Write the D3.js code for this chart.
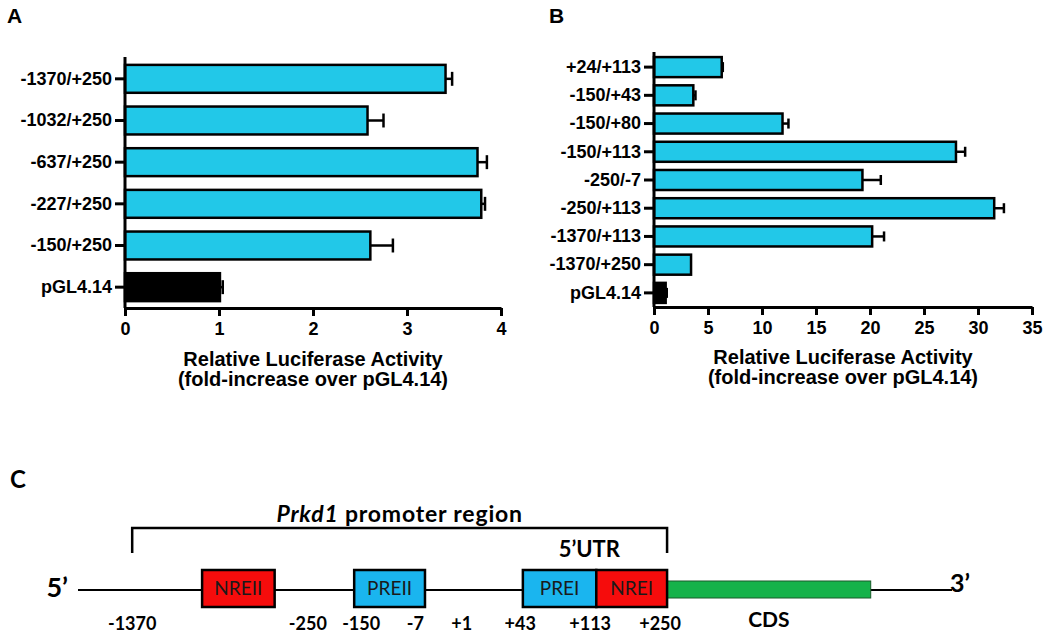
<!DOCTYPE html>
<html>
<head>
<meta charset="utf-8">
<script src="https://cdn.jsdelivr.net/npm/d3@7"></script>
<style>
    body { margin: 0; background: #fff; }
    svg { display: block; }
</style>
</head>
<body>
<div id="figure"></div>
<script>
// panel A data
var catsA = ["-1370/+250", "-1032/+250", "-637/+250", "-227/+250", "-150/+250", "pGL4.14"];
var valsA = [3.41, 2.58, 3.75, 3.79, 2.61, 1.01];
var errA = [0.07, 0.17, 0.10, 0.04, 0.24, 0.03];
var ticksA = [0, 1, 2, 3, 4];

// panel B data
var catsB = ["+24/+113", "-150/+43", "-150/+80", "-150/+113", "-250/-7", "-250/+113", "-1370/+113", "-1370/+250", "pGL4.14"];
var valsB = [6.27, 3.64, 11.9, 27.96, 19.3, 31.5, 20.2, 3.43, 1.08];
var errB = [0.10, 0.20, 0.55, 0.85, 1.7, 0.9, 1.1, 0, 0.1];
var ticksB = [0, 5, 10, 15, 20, 25, 30, 35];

var axisTitle = ["Relative Luciferase Activity", "(fold-increase over pGL4.14)"];

// panel C schematic (positions in schematic units 0..100 along the line)
var siteLabels = ["-1370", "-250", "-150", "-7", "+1", "+43", "+113", "+250"];
var siteAt = [6.2, 26.3, 32.4, 38.6, 43.9, 50.6, 58.6, 66.6];
var boxNames = ["NREII", "PREII", "PREI", "NREI"];
var boxFrom = [14.2, 31.6, 50.9, 59.3];
var boxTo = [22.5, 39.7, 59.3, 67.4];
var boxKind = ["N", "P", "P", "N"];

var width = 1050, height = 635;
var cyan = "#22c8e8";
var armFont = "'Liberation Sans', Arial, sans-serif";
var calFont = "Lato, 'Noto Sans', sans-serif";

var svg = d3.select("#figure")
        .append("svg")
        .attr("width", width)
        .attr("height", height);

function drawPanel(cats, vals, errs, ticks, opt) {
    var g = svg.append("g");

    var x = d3.scaleLinear()
            .domain([0, ticks[ticks.length - 1]])
            .range([opt.left, opt.right]);

    var y = d3.scaleBand()
            .domain(cats)
            .range([opt.top, opt.bottom])
            .paddingInner(opt.pad)
            .paddingOuter(opt.pad / 2);

    var rows = cats.map(function (c, i) {
        return {cat: c, v: vals[i], e: errs[i]};
    });

    // bars
    g.selectAll(".bar")
            .data(rows)
            .enter()
            .append("rect")
            .attr("x", x(0))
            .attr("y", function (d) { return y(d.cat); })
            .attr("width", function (d) { return x(d.v) - x(0); })
            .attr("height", y.bandwidth())
            .attr("fill", function (d) { return d.cat === "pGL4.14" ? "#000" : cyan; })
            .attr("stroke", "#000")
            .attr("stroke-width", 2.5);

    // error bars (upper side only)
    var eb = g.selectAll(".err")
            .data(rows.filter(function (d) { return d.e > 0; }))
            .enter()
            .append("g")
            .attr("stroke", "#000")
            .attr("stroke-width", 2.5);
    eb.append("line")
            .attr("x1", function (d) { return x(d.v); })
            .attr("x2", function (d) { return x(d.v + d.e); })
            .attr("y1", function (d) { return y(d.cat) + y.bandwidth() / 2; })
            .attr("y2", function (d) { return y(d.cat) + y.bandwidth() / 2; });
    eb.append("line")
            .attr("x1", function (d) { return x(d.v + d.e); })
            .attr("x2", function (d) { return x(d.v + d.e); })
            .attr("y1", function (d) { return y(d.cat) + y.bandwidth() / 4; })
            .attr("y2", function (d) { return y(d.cat) + y.bandwidth() * 3 / 4; });

    // axes
    var xa = g.append("g")
            .attr("transform", "translate(0," + opt.bottom + ")")
            .call(d3.axisBottom(x).tickValues(ticks).tickFormat(d3.format("d"))
                    .tickSize(8).tickSizeOuter(0).tickPadding(6));
    var ya = g.append("g")
            .attr("transform", "translate(" + opt.left + ",0)")
            .call(d3.axisLeft(y).tickSize(10).tickSizeOuter(0).tickPadding(3));

    [xa, ya].forEach(function (a) {
        a.selectAll("path, line").attr("stroke", "#000").attr("stroke-width", 3);
        a.selectAll("text")
                .attr("fill", "#000")
                .style("font-family", armFont)
                .style("font-weight", "bold")
                .style("font-size", "18px");
    });
    ya.select(".domain").attr("d", "M0," + (opt.top - 1) + "V" + opt.bottom);

    // axis title
    g.selectAll(".ttl")
            .data(axisTitle)
            .enter()
            .append("text")
            .attr("x", (opt.left + opt.right) / 2)
            .attr("y", function (d, i) { return opt.titleY + i * 20; })
            .attr("text-anchor", "middle")
            .style("font-family", armFont)
            .style("font-weight", "bold")
            .style("font-size", "20px")
            .text(function (d) { return d; });

    // panel letter
    g.append("text")
            .attr("x", opt.letterX)
            .attr("y", 23)
            .style("font-family", armFont)
            .style("font-weight", "bold")
            .style("font-size", "21px")
            .text(opt.letter);
}

drawPanel(catsA, valsA, errA, ticksA,
        {left: 125, right: 501, top: 58, bottom: 308, pad: 0.33, titleY: 366, letter: "A", letterX: 7});
drawPanel(catsB, valsB, errB, ticksB,
        {left: 654, right: 1032, top: 53, bottom: 307, pad: 0.29, titleY: 364, letter: "B", letterX: 549});

// ---- panel C: promoter schematic ----
var c = svg.append("g");
var u = d3.scaleLinear().domain([0, 100]).range([78, 952]);
var lineY = 590;

c.append("text")
        .attr("x", 10).attr("y", 488)
        .style("font-family", calFont).style("font-weight", "bold").style("font-size", "24px")
        .text("C");

// backbone
c.append("line")
        .attr("x1", u(0)).attr("x2", u(100))
        .attr("y1", lineY).attr("y2", lineY)
        .attr("stroke", "#000").attr("stroke-width", 2);

// CDS
c.append("rect")
        .attr("x", u(67.4)).attr("y", 581)
        .attr("width", u(90.7) - u(67.4)).attr("height", 17)
        .attr("fill", "#15b24a").attr("stroke", "#1a5a2a").attr("stroke-width", 1);

// regulatory boxes
var boxes = c.selectAll(".box")
        .data(boxNames.map(function (n, i) {
            return {name: n, from: boxFrom[i], to: boxTo[i], kind: boxKind[i]};
        }))
        .enter()
        .append("g");
boxes.append("rect")
        .attr("x", function (d) { return u(d.from); })
        .attr("y", 570)
        .attr("width", function (d) { return u(d.to) - u(d.from); })
        .attr("height", 37)
        .attr("fill", function (d) { return d.kind === "N" ? "#f60c0c" : "#1ab5ef"; })
        .attr("stroke", "#000").attr("stroke-width", 2.5);
boxes.append("text")
        .attr("x", function (d) { return (u(d.from) + u(d.to)) / 2; })
        .attr("y", 595)
        .attr("text-anchor", "middle")
        .attr("fill", "#1a1a1a")
        .style("font-family", calFont).style("font-size", "19px")
        .text(function (d) { return d.name; });

// bracket over the promoter region
c.append("path")
        .attr("d", "M" + u(siteAt[0]) + ",553V528H" + u(boxTo[3]) + "V553")
        .attr("fill", "none").attr("stroke", "#000").attr("stroke-width", 2.5);

var ttl = c.append("text")
        .attr("x", (u(siteAt[0]) + u(boxTo[3])) / 2)
        .attr("y", 522)
        .attr("text-anchor", "middle")
        .style("font-family", calFont).style("font-weight", "bold").style("font-size", "23px")
        .style("letter-spacing", "0.8px");
ttl.append("tspan").style("font-style", "italic").text("Prkd1");
ttl.append("tspan").text(" promoter region");

c.append("text")
        .attr("x", u(58.5)).attr("y", 557)
        .attr("text-anchor", "middle")
        .style("font-family", calFont).style("font-weight", "bold").style("font-size", "22px")
        .text("5\u2019UTR");

// ends
c.append("text")
        .attr("x", u(0) - 10).attr("y", 597)
        .attr("text-anchor", "end")
        .style("font-family", calFont).style("font-weight", "bold").style("font-size", "27px")
        .text("5\u2019");
c.append("text")
        .attr("x", u(100) - 2).attr("y", 592)
        .style("font-family", calFont).style("font-weight", "bold").style("font-size", "25px")
        .text("3\u2019");

// site numbers
c.selectAll(".site")
        .data(siteLabels)
        .enter()
        .append("text")
        .attr("x", function (d, i) { return u(siteAt[i]); })
        .attr("y", 630)
        .attr("text-anchor", "middle")
        .style("font-family", calFont).style("font-weight", "bold").style("font-size", "18px")
        .text(function (d) { return d; });

c.append("text")
        .attr("x", (u(67.4) + u(90.7)) / 2).attr("y", 627)
        .attr("text-anchor", "middle")
        .style("font-family", calFont).style("font-weight", "bold").style("font-size", "21px")
        .text("CDS");
</script>
</body>
</html>
